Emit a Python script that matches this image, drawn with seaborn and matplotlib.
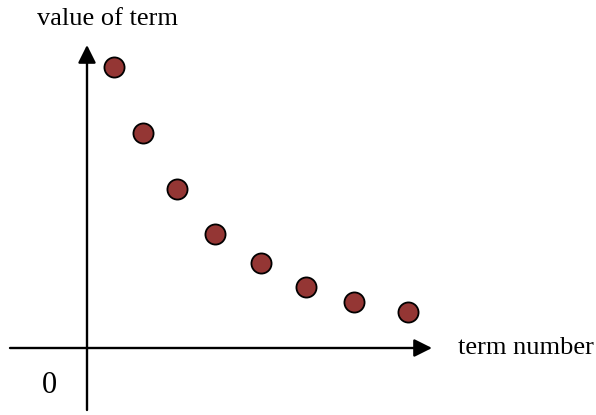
import matplotlib
matplotlib.use("Agg")
import matplotlib.pyplot as plt
import pandas as pd
import seaborn as sns

sns.set_theme(style="white")
plt.rcParams["font.family"] = ["Liberation Serif", "DejaVu Serif"]
plt.rcParams["text.color"] = "black"

# term positions and values (origin at axis crossing)
term_x = [2.7, 5.6, 9.0, 12.8, 17.4, 21.9, 26.7, 32.1]
term_value = [28.1, 21.5, 15.9, 11.4, 8.5, 6.1, 4.6, 3.6]

df = pd.DataFrame({"term": term_x, "value": term_value})

fig = plt.figure(figsize=(5.96, 4.15), dpi=100)
ax = fig.add_axes([0, 0, 1, 1])
ax.set_xlim(-8.7, 50.9)
ax.set_ylim(-6.7, 34.8)
ax.axis("off")

arrow = dict(arrowstyle="-|>,head_length=0.9,head_width=0.45", color="black",
             lw=1.7, shrinkA=0, shrinkB=0)
ax.annotate("", xy=(34.5, 0), xytext=(-7.7, 0), arrowprops=arrow)
ax.annotate("", xy=(0, 30.3), xytext=(0, -6.2), arrowprops=arrow)

sns.scatterplot(data=df, x="term", y="value", s=210, color="#943634",
                edgecolor="black", linewidth=1.3, ax=ax, zorder=3)

ax.text(2.1, 32.9, "value of term", fontsize=19, ha="center", va="center",
        color="black")
ax.text(37.1, 0, "term number", fontsize=19, ha="left", va="center",
        color="black")
ax.text(-3.8, -3.7, "0", fontsize=22, ha="center", va="center", color="black")

fig.savefig("out.png", dpi=100)
